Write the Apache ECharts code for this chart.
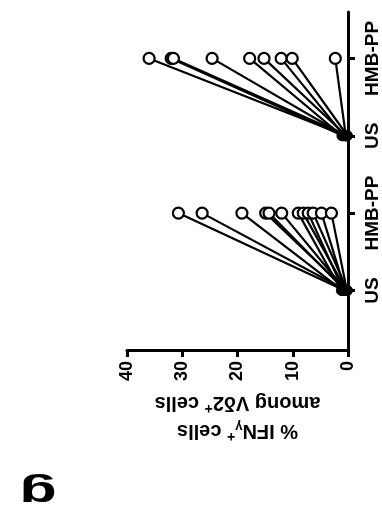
<!DOCTYPE html>
<html>
<head>
<meta charset="utf-8">
<script src="https://cdn.jsdelivr.net/npm/echarts@6/dist/echarts.min.js"></script>
<style>
  html, body { margin: 0; padding: 0; background: #fff; }
  #chart { width: 382px; height: 518px; }
</style>
</head>
<body>
<div id="chart"></div>
<script>
// Paired donors: unstimulated (US) vs HMB-PP stimulated, two experiments
const categories = ['US', 'HMB-PP', 'US', 'HMB-PP'];
const exp1US  = [0.6, 0.3, 1.0, 0.2, 0.5, 0.4, 1.2, 0.3, 0.8, 0.1, 0.5, 0.2];
const exp1HMB = [30.7, 26.4, 19.2, 14.9, 14.3, 12.0, 9.0, 8.1, 7.2, 6.3, 4.8, 3.0];
const exp2US  = [0.4, 0.9, 0.2, 0.5, 1.1, 0.3, 0.7, 0.1, 0.4];
const exp2HMB = [36.0, 32.0, 31.6, 24.6, 17.8, 15.2, 12.1, 10.1, 2.3];
const valueTicks = [0, 10, 20, 30, 40];

// category slots laid out along a numeric axis so the axis line can run past them
const SLOT_OFFSET = 0.77;
const SLOT_MAX = 4.37;
const slot = i => i + SLOT_OFFSET;
const slotValues = categories.map((_, i) => slot(i));

const FONT = 'Arial, "Liberation Sans", Helvetica, sans-serif';

function pairSeries(usVals, hmbVals, usIndex, hmbIndex) {
  return usVals.map((us, k) => ({
    type: 'line',
    silent: true,
    animation: false,
    lineStyle: { color: '#000', width: 2.2 },
    data: [
      { value: [us, slot(usIndex)], symbol: 'circle', symbolSize: 10,
        itemStyle: { color: '#000', borderColor: '#000', borderWidth: 1 } },
      { value: [hmbVals[k], slot(hmbIndex)], symbol: 'circle', symbolSize: 11,
        itemStyle: { color: '#fff', borderColor: '#000', borderWidth: 2.2 } }
    ]
  }));
}

const chart = echarts.init(document.getElementById('chart'), null, { renderer: 'canvas' });

chart.setOption({
  backgroundColor: '#fff',
  animation: false,
  grid: { left: 127, right: 32, top: 12, bottom: 168, containLabel: false },
  xAxis: {
    type: 'value',
    inverse: true,
    position: 'bottom',
    min: valueTicks[0],
    max: valueTicks[valueTicks.length - 1],
    interval: 10,
    splitLine: { show: false },
    axisLine: { show: true, lineStyle: { color: '#000', width: 3 } },
    axisTick: { show: true, length: 7, lineStyle: { color: '#000', width: 3 } },
    axisLabel: {
      rotate: 90, margin: 11, color: '#000',
      fontFamily: FONT, fontWeight: 'bold', fontSize: 18
    },
    name: '{t|% IFN}{sub|γ}{sup|+}{t| cells}\n{t|among Vδ2}{sup|+}{t| cells}',
    nameLocation: 'middle',
    nameRotate: 180,
    nameGap: 32,
    nameTextStyle: {
      color: '#000', fontFamily: FONT, fontWeight: 'bold', fontSize: 20,
      lineHeight: 28,
      rich: {
        t: { fontFamily: FONT, fontWeight: 'bold', fontSize: 20, color: '#000' },
        sub: { fontFamily: FONT, fontWeight: 'bold', fontSize: 13, color: '#000', padding: [8, 0, 0, 0] },
        sup: { fontFamily: FONT, fontWeight: 'bold', fontSize: 14, color: '#000', padding: [0, 0, 10, 0] }
      }
    }
  },
  yAxis: {
    type: 'value',
    position: 'right',
    min: 0,
    max: SLOT_MAX,
    splitLine: { show: false },
    axisLine: { show: true, onZero: false, lineStyle: { color: '#000', width: 3 } },
    axisTick: { show: true, length: 7, customValues: slotValues, lineStyle: { color: '#000', width: 3 } },
    axisLabel: {
      customValues: slotValues,
      rotate: 90, margin: 15, color: '#000',
      fontFamily: FONT, fontWeight: 'bold', fontSize: 19,
      formatter: v => categories[Math.round(v - SLOT_OFFSET)] || ''
    }
  },
  graphic: [{
    type: 'text',
    x: 38, y: 492,
    rotation: Math.PI,
    scaleX: 1.7,
    style: {
      text: 'g', fill: '#000',
      font: 'bold 36px ' + FONT,
      textAlign: 'center', textVerticalAlign: 'middle'
    }
  }],
  series: [].concat(
    pairSeries(exp1US, exp1HMB, 0, 1),
    pairSeries(exp2US, exp2HMB, 2, 3)
  )
});
</script>
</body>
</html>
